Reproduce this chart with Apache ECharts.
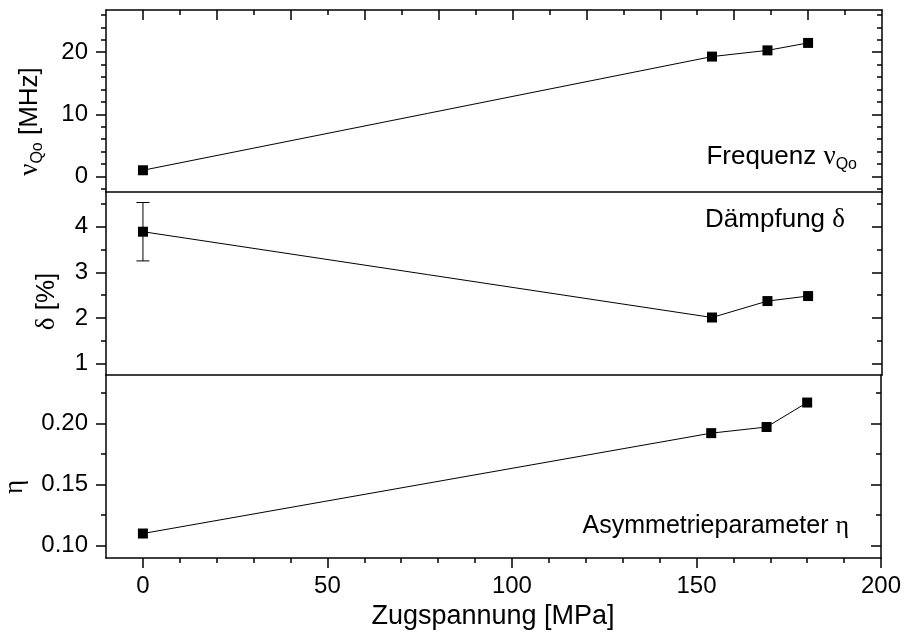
<!DOCTYPE html>
<html><head><meta charset="utf-8">
<script src="https://cdn.jsdelivr.net/npm/echarts@6/dist/echarts.min.js"></script>
<style>html,body{margin:0;padding:0;background:#fff}#c{width:904px;height:639px}</style>
</head><body><div id="c"></div>
<script>
// ---- data ----
const stress = [0, 154, 169, 180];              // Zugspannung [MPa]
const freq = [1.0, 19.3, 20.3, 21.5];           // nu_Qo [MHz]
const damp = [3.89, 2.01, 2.37, 2.48];          // delta [%]
const dampErr = [0.64, 0, 0, 0];                // error of delta
const eta = [0.110, 0.192, 0.197, 0.217];       // eta
const xTicks = [0, 50, 100, 150, 200];
const freqTicks = [0, 10, 20];
const dampTicks = [1, 2, 3, 4];
const etaTicks = [0.10, 0.15, 0.20];
const xTitle = 'Zugspannung [MPa]';
const yTitles = ['{g|ν}{s|Qo} [MHz]', '{g|δ} [%]', '{g|η}'];
const panelLabels = ['Frequenz {g|ν}{s|Qo}', 'Dämpfung {g|δ}', 'Asymmetrieparameter {g|η}'];

// ---- styling / layout ----
const FONT = 'Liberation Sans, Arial, sans-serif';
const SERIF = 'Liberation Serif, Times New Roman, serif';
const LW = 1.5;
const TICKFS = 24;
const L = 106, W = 776;
const grids = [
  {left: L, width: W, top: 10, height: 182},
  {left: L, width: W, top: 192, height: 183},
  {left: L, width: W, top: 375, height: 183}
];
const xMin = -10, xMax = 200;
const yRanges = [[-2.5, 26.8], [0.75, 4.76], [0.09, 0.2395]];
const majors = [freqTicks, dampTicks, etaTicks];
const minorStep = [2, 0.5, 0.025];

function seq(a, b, s) { const r = []; for (let k = 0; a + k * s <= b + 1e-9; k++) r.push(+(a + k * s).toFixed(5)); return r; }
function minorOf(min, max, step, maj) {
  const start = Math.ceil(min / step - 1e-9) * step;
  return seq(start, max, step).filter(v => !maj.some(m => Math.abs(m - v) < 1e-7));
}
const lineStyle = {color: '#000', width: LW};

const xAxis = [];
[0, 1].forEach(g => xAxis.push({
  type: 'value', gridIndex: g, min: xMin, max: xMax, position: 'bottom',
  axisLine: {show: true, onZero: false, lineStyle},
  axisTick: {show: false}, axisLabel: {show: false}, splitLine: {show: false}
}));
xAxis.push({
  type: 'value', gridIndex: 2, min: xMin, max: xMax, position: 'bottom',
  axisLine: {show: true, onZero: false, lineStyle},
  axisTick: {show: true, customValues: xTicks, length: 10, lineStyle},
  axisLabel: {show: true, customValues: xTicks, margin: 16, fontFamily: FONT, fontSize: TICKFS, color: '#000'},
  splitLine: {show: false}
});
xAxis.push({
  type: 'value', gridIndex: 2, min: xMin, max: xMax, position: 'bottom',
  axisLine: {show: false, onZero: false},
  axisTick: {show: true, customValues: minorOf(0, 199, 10, xTicks), length: 5, lineStyle},
  axisLabel: {show: false}, splitLine: {show: false}
});
xAxis.push({
  type: 'value', gridIndex: 0, min: xMin, max: xMax, position: 'top',
  axisLine: {show: true, onZero: false, lineStyle},
  axisTick: {show: true, inside: true, customValues: seq(0, 180, 20), length: 10, lineStyle},
  axisLabel: {show: false}, splitLine: {show: false}
});
xAxis.push({
  type: 'value', gridIndex: 0, min: xMin, max: xMax, position: 'top',
  axisLine: {show: false, onZero: false},
  axisTick: {show: true, inside: true, customValues: seq(10, 190, 20), length: 5, lineStyle},
  axisLabel: {show: false}, splitLine: {show: false}
});

const fmt = [v => String(v), v => String(v), v => v.toFixed(2)];
const yAxis = [];
grids.forEach((gr, g) => {
  const [mn, mx] = yRanges[g];
  const minors = minorOf(mn, mx, minorStep[g], majors[g]);
  yAxis.push({
    type: 'value', gridIndex: g, min: mn, max: mx, position: 'left',
    axisLine: {show: true, onZero: false, lineStyle},
    axisTick: {show: true, customValues: majors[g], length: 10, lineStyle},
    axisLabel: {show: true, customValues: majors[g], margin: 18, formatter: fmt[g], fontFamily: FONT, fontSize: TICKFS, color: '#000'},
    splitLine: {show: false}
  });
  yAxis.push({
    type: 'value', gridIndex: g, min: mn, max: mx, position: 'left',
    axisLine: {show: false, onZero: false},
    axisTick: {show: true, customValues: minors, length: 5, lineStyle},
    axisLabel: {show: false}, splitLine: {show: false}
  });
  yAxis.push({
    type: 'value', gridIndex: g, min: mn, max: mx, position: 'right',
    axisLine: {show: true, onZero: false, lineStyle},
    axisTick: {show: true, inside: true, customValues: majors[g], length: 10, lineStyle},
    axisLabel: {show: false}, splitLine: {show: false}
  });
  yAxis.push({
    type: 'value', gridIndex: g, min: mn, max: mx, position: 'right',
    axisLine: {show: false, onZero: false},
    axisTick: {show: true, inside: true, customValues: minors, length: 5, lineStyle},
    axisLabel: {show: false}, splitLine: {show: false}
  });
});

function lineSeries(vals, xi, yi) {
  return {
    type: 'line', xAxisIndex: xi, yAxisIndex: yi,
    data: stress.map((x, i) => [x, vals[i]]),
    symbol: 'rect', symbolSize: 10, showSymbol: true,
    itemStyle: {color: '#000'}, lineStyle: {color: '#000', width: 1},
    animation: false, z: 5
  };
}

const series = [
  lineSeries(freq, 0, 0),
  lineSeries(damp, 1, 4),
  lineSeries(eta, 2, 8),
  {
    type: 'custom', xAxisIndex: 1, yAxisIndex: 4,
    data: stress.map((x, i) => [x, damp[i] - dampErr[i], damp[i] + dampErr[i]]).filter((d, i) => dampErr[i] > 0),
    renderItem: function (params, api) {
      const lo = api.coord([api.value(0), api.value(1)]);
      const hi = api.coord([api.value(0), api.value(2)]);
      const hw = 6.5;
      const st = {stroke: '#000', lineWidth: 1};
      return {type: 'group', children: [
        {type: 'line', shape: {x1: lo[0], y1: lo[1], x2: hi[0], y2: hi[1]}, style: st},
        {type: 'line', shape: {x1: lo[0] - hw, y1: lo[1], x2: lo[0] + hw, y2: lo[1]}, style: st},
        {type: 'line', shape: {x1: hi[0] - hw, y1: hi[1], x2: hi[0] + hw, y2: hi[1]}, style: st}
      ]};
    },
    animation: false, z: 4
  }
];

const LH = 32;
function makeRich(fs) {
  return {
    g: {fontFamily: SERIF, fontSize: fs + 1, lineHeight: LH, fill: '#000'},
    s: {fontFamily: FONT, fontSize: 16, lineHeight: LH, verticalAlign: 'bottom', fill: '#000'}
  };
}
function txt(text, x, y, align, fs, rot) {
  return {type: 'text', x, y, rotation: rot || 0, z: 10,
    style: {text, align, verticalAlign: 'middle', fontFamily: FONT, fontSize: fs, lineHeight: LH, fill: '#000', rich: makeRich(fs)}};
}
const graphic = [
  txt(panelLabels[0], 857, 157, 'right', 26),
  txt(panelLabels[1], 845, 220, 'right', 26),
  txt(panelLabels[2], 849, 526.5, 'right', 25),
  txt(xTitle, 493, 616.5, 'center', 27),
  txt(yTitles[0], 30, 121.5, 'center', 26, Math.PI / 2),
  txt(yTitles[1], 47, 301.5, 'center', 26, Math.PI / 2),
  txt(yTitles[2], 14.5, 487, 'center', 26, Math.PI / 2)
];

const chart = echarts.init(document.getElementById('c'), null, {renderer: 'canvas'});
chart.setOption({
  backgroundColor: '#fff', animation: false,
  grid: grids.map(g => Object.assign({containLabel: false}, g)),
  xAxis, yAxis, series, graphic
});
</script></body></html>
